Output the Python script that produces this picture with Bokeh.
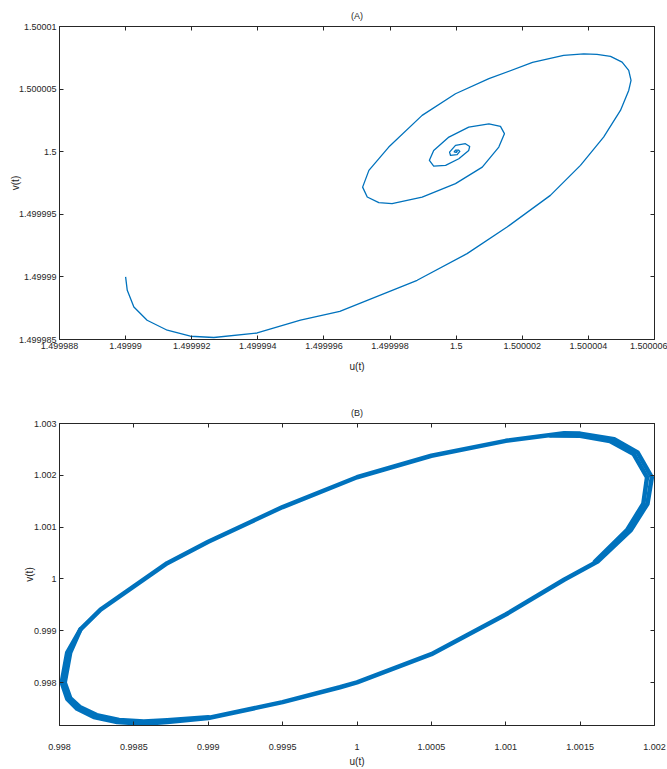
from bokeh.plotting import figure
from bokeh.models import Range1d, FixedTicker, CustomJSTickFormatter, LinearAxis, CustomLabelingPolicy
from bokeh.layouts import column
from bokeh.embed import file_html
from bokeh.resources import INLINE

# ---------------- Panel (A): spiral trajectory converging to (1.5, 1.5) ----------------
u_a = [1.4999900, 1.49999005, 1.49999025, 1.49999065, 1.49999126, 1.49999196, 1.49999267,
       1.49999398, 1.49999529, 1.49999648, 1.49999731, 1.49999882, 1.50000033, 1.50000154,
       1.50000285, 1.50000376, 1.50000446, 1.50000497, 1.50000522, 1.50000529, 1.50000522,
       1.50000502, 1.50000467, 1.50000426, 1.50000386, 1.50000325, 1.50000231, 1.50000099,
       1.49999998, 1.49999897, 1.49999796, 1.49999736, 1.49999717, 1.49999731, 1.49999766,
       1.49999806, 1.49999897, 1.49999998, 1.50000079, 1.50000129, 1.50000146, 1.50000134,
       1.50000099, 1.50000038, 1.49999978, 1.49999932, 1.49999919, 1.49999932, 1.49999968,
       1.50000008, 1.50000038, 1.50000041, 1.50000028, 1.49999998, 1.49999980, 1.49999983,
       1.50000003, 1.50000011, 1.50000007, 1.49999998, 1.49999994, 1.50000000, 1.50000003,
       1.50000000]
v_a = [1.4999900, 1.49998893, 1.49998760, 1.49998654, 1.49998574, 1.49998526, 1.49998516,
       1.49998552, 1.49998654, 1.49998725, 1.49998813, 1.49998973, 1.49999186, 1.49999398,
       1.49999651, 1.49999891, 1.50000117, 1.50000330, 1.50000489, 1.50000569, 1.50000649,
       1.50000715, 1.50000761, 1.50000777, 1.50000782, 1.50000769, 1.50000713, 1.50000583,
       1.50000463, 1.50000290, 1.50000037, 1.49999851, 1.49999717, 1.49999638, 1.49999593,
       1.49999585, 1.49999638, 1.49999745, 1.49999877, 1.50000037, 1.50000144, 1.50000202,
       1.50000223, 1.50000196, 1.50000117, 1.50000010, 1.49999931, 1.49999885, 1.49999891,
       1.49999944, 1.50000010, 1.50000042, 1.50000064, 1.50000050, 1.49999997, 1.49999970,
       1.49999976, 1.50000002, 1.50000013, 1.50000012, 1.49999999, 1.49999994, 1.50000002,
       1.50000000]
xticks_a = [1.499988, 1.49999, 1.499992, 1.499994, 1.499996, 1.499998, 1.5, 1.500002, 1.500004, 1.500006]
yticks_a = [1.499985, 1.49999, 1.499995, 1.5, 1.500005, 1.50001]

# ---------------- Panel (B): limit cycle (closed loop) ----------------
u_b = [0.998015, 0.998052, 0.998119, 0.998231, 0.998388, 0.998567, 0.998724, 0.999000,
       0.999500, 0.999885, 1.000000, 1.000500, 1.001000, 1.001392, 1.001617, 1.001841,
       1.001953, 1.001982, 1.001886, 1.001729, 1.001500, 1.001392, 1.001000, 1.000500,
       1.000000, 0.999500, 0.999285, 0.999000, 0.998724, 0.998500, 0.998276, 0.998141,
       0.998052, 0.998015]
v_b = [0.998000, 0.997684, 0.997492, 0.997333, 0.997238, 0.997205, 0.997238, 0.997314,
       0.997621, 0.997908, 0.998004, 0.998546, 0.999312, 0.999983, 1.000334, 1.000941,
       1.001452, 1.001962, 1.002441, 1.002697, 1.002805, 1.002812, 1.002665, 1.002377,
       1.001962, 1.001387, 1.001100, 1.000717, 1.000303, 0.999854, 0.999408, 0.999025,
       0.998579, 0.998000]
# inner edge of the thickened band at the right end
u_b_right = [1.001300, 1.001500, 1.001700, 1.001860, 1.001950, 1.001925, 1.001815, 1.001600]
v_b_right = [1.002770, 1.002765, 1.002660, 1.002410, 1.001962, 1.001452, 1.000941, 1.000334]
# inner edge of the thickened band at the left end
u_b_left = [0.998141, 0.998072, 0.998035, 0.998072, 0.998140, 0.998250, 0.998400, 0.998567, 0.998724, 0.999000]
v_b_left = [0.999025, 0.998579, 0.998000, 0.997700, 0.997520, 0.997370, 0.997275, 0.997245, 0.997270, 0.997330]
xticks_b = [0.998, 0.9985, 0.999, 0.9995, 1.0, 1.0005, 1.001, 1.0015, 1.002]
yticks_b = [0.997, 0.998, 0.999, 1.0, 1.001, 1.002, 1.003]

FONT = "Liberation Sans"
INK = "#262626"
BLUE = "#0072BD"

HIDE_ALL = """
try { indices.clear() } catch (e) { for (const i of Array.from(indices)) { indices.unset(i) } }
return indices
"""


def style_axis(ax, ticks, digits, standoff, show_labels=True):
    ax.ticker = FixedTicker(ticks=ticks)
    ax.formatter = CustomJSTickFormatter(code="return parseFloat(tick.toFixed(%d)).toString();" % digits)
    ax.axis_line_color = INK
    ax.axis_line_width = 1
    ax.major_tick_line_color = INK
    ax.major_tick_in = 4
    ax.major_tick_out = 0
    ax.minor_tick_line_color = None
    ax.major_label_text_font = FONT
    ax.major_label_text_color = INK
    ax.major_label_standoff = standoff
    ax.major_label_text_font_size = "9px" if show_labels else "1px"
    if not show_labels:
        ax.major_label_policy = CustomLabelingPolicy(code=HIDE_ALL)
    ax.axis_label_text_font = FONT
    ax.axis_label_text_font_size = "10px"
    ax.axis_label_text_font_style = "normal"
    ax.axis_label_text_color = INK


def make_panel(title, xr, yr, xt, yt, xdig, ydig, height, top, bottom,
               xlab_standoff, xaxis_label_standoff, yaxis_label_standoff):
    p = figure(width=667, height=height, x_range=Range1d(*xr), y_range=Range1d(*yr),
               output_backend="svg", toolbar_location=None,
               min_border_left=59, min_border_right=13, min_border_top=top, min_border_bottom=bottom,
               x_axis_label="u(t)", y_axis_label="v(t)")
    p.grid.visible = False
    p.outline_line_color = INK
    p.outline_line_width = 1
    p.background_fill_color = "white"
    p.border_fill_color = "white"
    for ax in p.xaxis:
        style_axis(ax, xt, xdig, xlab_standoff)
        ax.axis_label_standoff = xaxis_label_standoff
    for ax in p.yaxis:
        style_axis(ax, yt, ydig, 3)
        ax.axis_label_standoff = yaxis_label_standoff
    # mirrored inward ticks on the top and right edges of the box (no labels)
    ra = LinearAxis()
    style_axis(ra, yt, ydig, 0, show_labels=False)
    p.add_layout(ra, "right")
    ta = LinearAxis()
    style_axis(ta, xt, xdig, 0, show_labels=False)
    p.add_layout(ta, "above")
    p.title.text = title
    p.title.align = "center"
    p.title.text_font = FONT
    p.title.text_font_size = "9px"
    p.title.text_font_style = "normal"
    p.title.text_color = INK
    p.title.standoff = 4
    return p


pA = make_panel("(A)", (1.499988, 1.500006), (1.499985, 1.50001), xticks_a, yticks_a, 6, 6,
                385, 26, 46, 3, 9, -5)
pA.line(u_a, v_a, line_color=BLUE, line_width=1.3, line_join="round")

pB = make_panel("(B)", (0.998, 1.002), (0.99717, 1.003), xticks_b, yticks_b, 4, 4,
                384, 38, 42, 18, 3, -4)
pB.line(u_b, v_b, line_color=BLUE, line_width=4.5, line_join="round")
pB.line(u_b_right, v_b_right, line_color=BLUE, line_width=4.5, line_join="round", line_cap="round")
pB.line(u_b_left, v_b_left, line_color=BLUE, line_width=4.5, line_join="round", line_cap="round")

layout = column(pA, pB)
open("out.html", "w").write(file_html(layout, INLINE))
